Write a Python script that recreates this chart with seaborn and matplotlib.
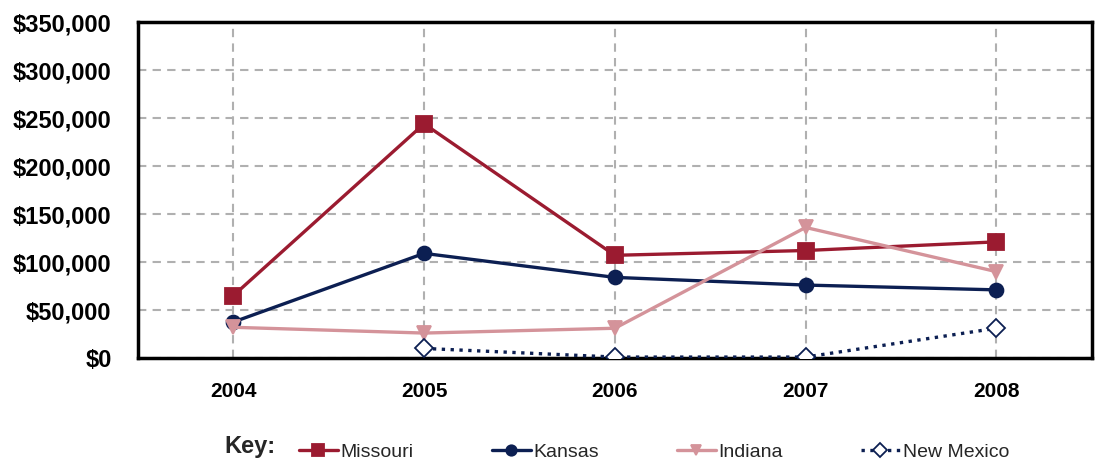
import matplotlib
matplotlib.use("Agg")
import matplotlib.pyplot as plt
import matplotlib.ticker as mticker
import seaborn as sns
import numpy as np
import pandas as pd

years = [2004, 2005, 2006, 2007, 2008]
missouri = [65000, 244000, 107000, 112000, 121000]
kansas = [37500, 109000, 84000, 76000, 71000]
indiana = [32000, 26000, 31000, 136000, 90000]
new_mexico = [np.nan, 10000, 1000, 1000, 31000]

series = {
    "Missouri": (missouri, "#9b1b30", "s", "-", "#9b1b30", 11),
    "Kansas": (kansas, "#0c1f52", "o", "-", "#0c1f52", 10),
    "Indiana": (indiana, "#d4939a", "v", "-", "#d4939a", 10),
    "New Mexico": (new_mexico, "#0c1f52", "D", ":", "white", 9),
}

sns.set_style("white")
plt.rcParams['font.family'] = ['Liberation Sans', 'DejaVu Sans']

fig = plt.figure(figsize=(10.95, 4.59), dpi=100)
ax = fig.add_axes([0.126, 0.22, 0.871, 0.732])

for name, (vals, col, mk, ls, mfc, ms) in series.items():
    df = pd.DataFrame({"year": years, "value": vals}).dropna()
    sns.lineplot(data=df, x="year", y="value", ax=ax, color=col, marker=mk,
                 linestyle=ls, linewidth=2.4, markersize=ms, markerfacecolor=mfc,
                 markeredgecolor=col, markeredgewidth=1.3, label=name, zorder=3)

ax.set_xlim(2003.5, 2008.5)
ax.set_ylim(0, 350000)
ax.set_xticks(years)
ax.set_xticklabels([str(y) for y in years])
ax.yaxis.set_major_locator(mticker.MultipleLocator(50000))
ax.yaxis.set_major_formatter(mticker.FuncFormatter(lambda v, p: f"${v:,.0f}"))
ax.set_xlabel("")
ax.set_ylabel("")
ax.grid(True, linestyle=(0, (4, 3)), color="#b0b0b0", linewidth=1.5)
ax.set_axisbelow(True)
for s in ax.spines.values():
    s.set_color("black")
    s.set_linewidth(2.5)
ax.tick_params(axis="y", length=13, width=1.5, color="#b0b0b0", pad=6, labelsize=17)
ax.tick_params(axis="x", length=0, pad=17, labelsize=15)
for lbl in ax.get_xticklabels() + ax.get_yticklabels():
    lbl.set_fontweight("bold")
    lbl.set_color("black")

handles, labels = ax.get_legend_handles_labels()
ax.get_legend().remove()
fig.legend(handles, labels, ncol=4, loc="lower left", bbox_to_anchor=(0.257, -0.042),
           frameon=False, fontsize=14, columnspacing=4.0, handlelength=2.0,
           handletextpad=0.15, markerscale=0.75)
fig.text(0.205, 0.012, "Key:", fontsize=17, fontweight="bold", ha="left", va="baseline")

fig.savefig("out.png", dpi=100)
